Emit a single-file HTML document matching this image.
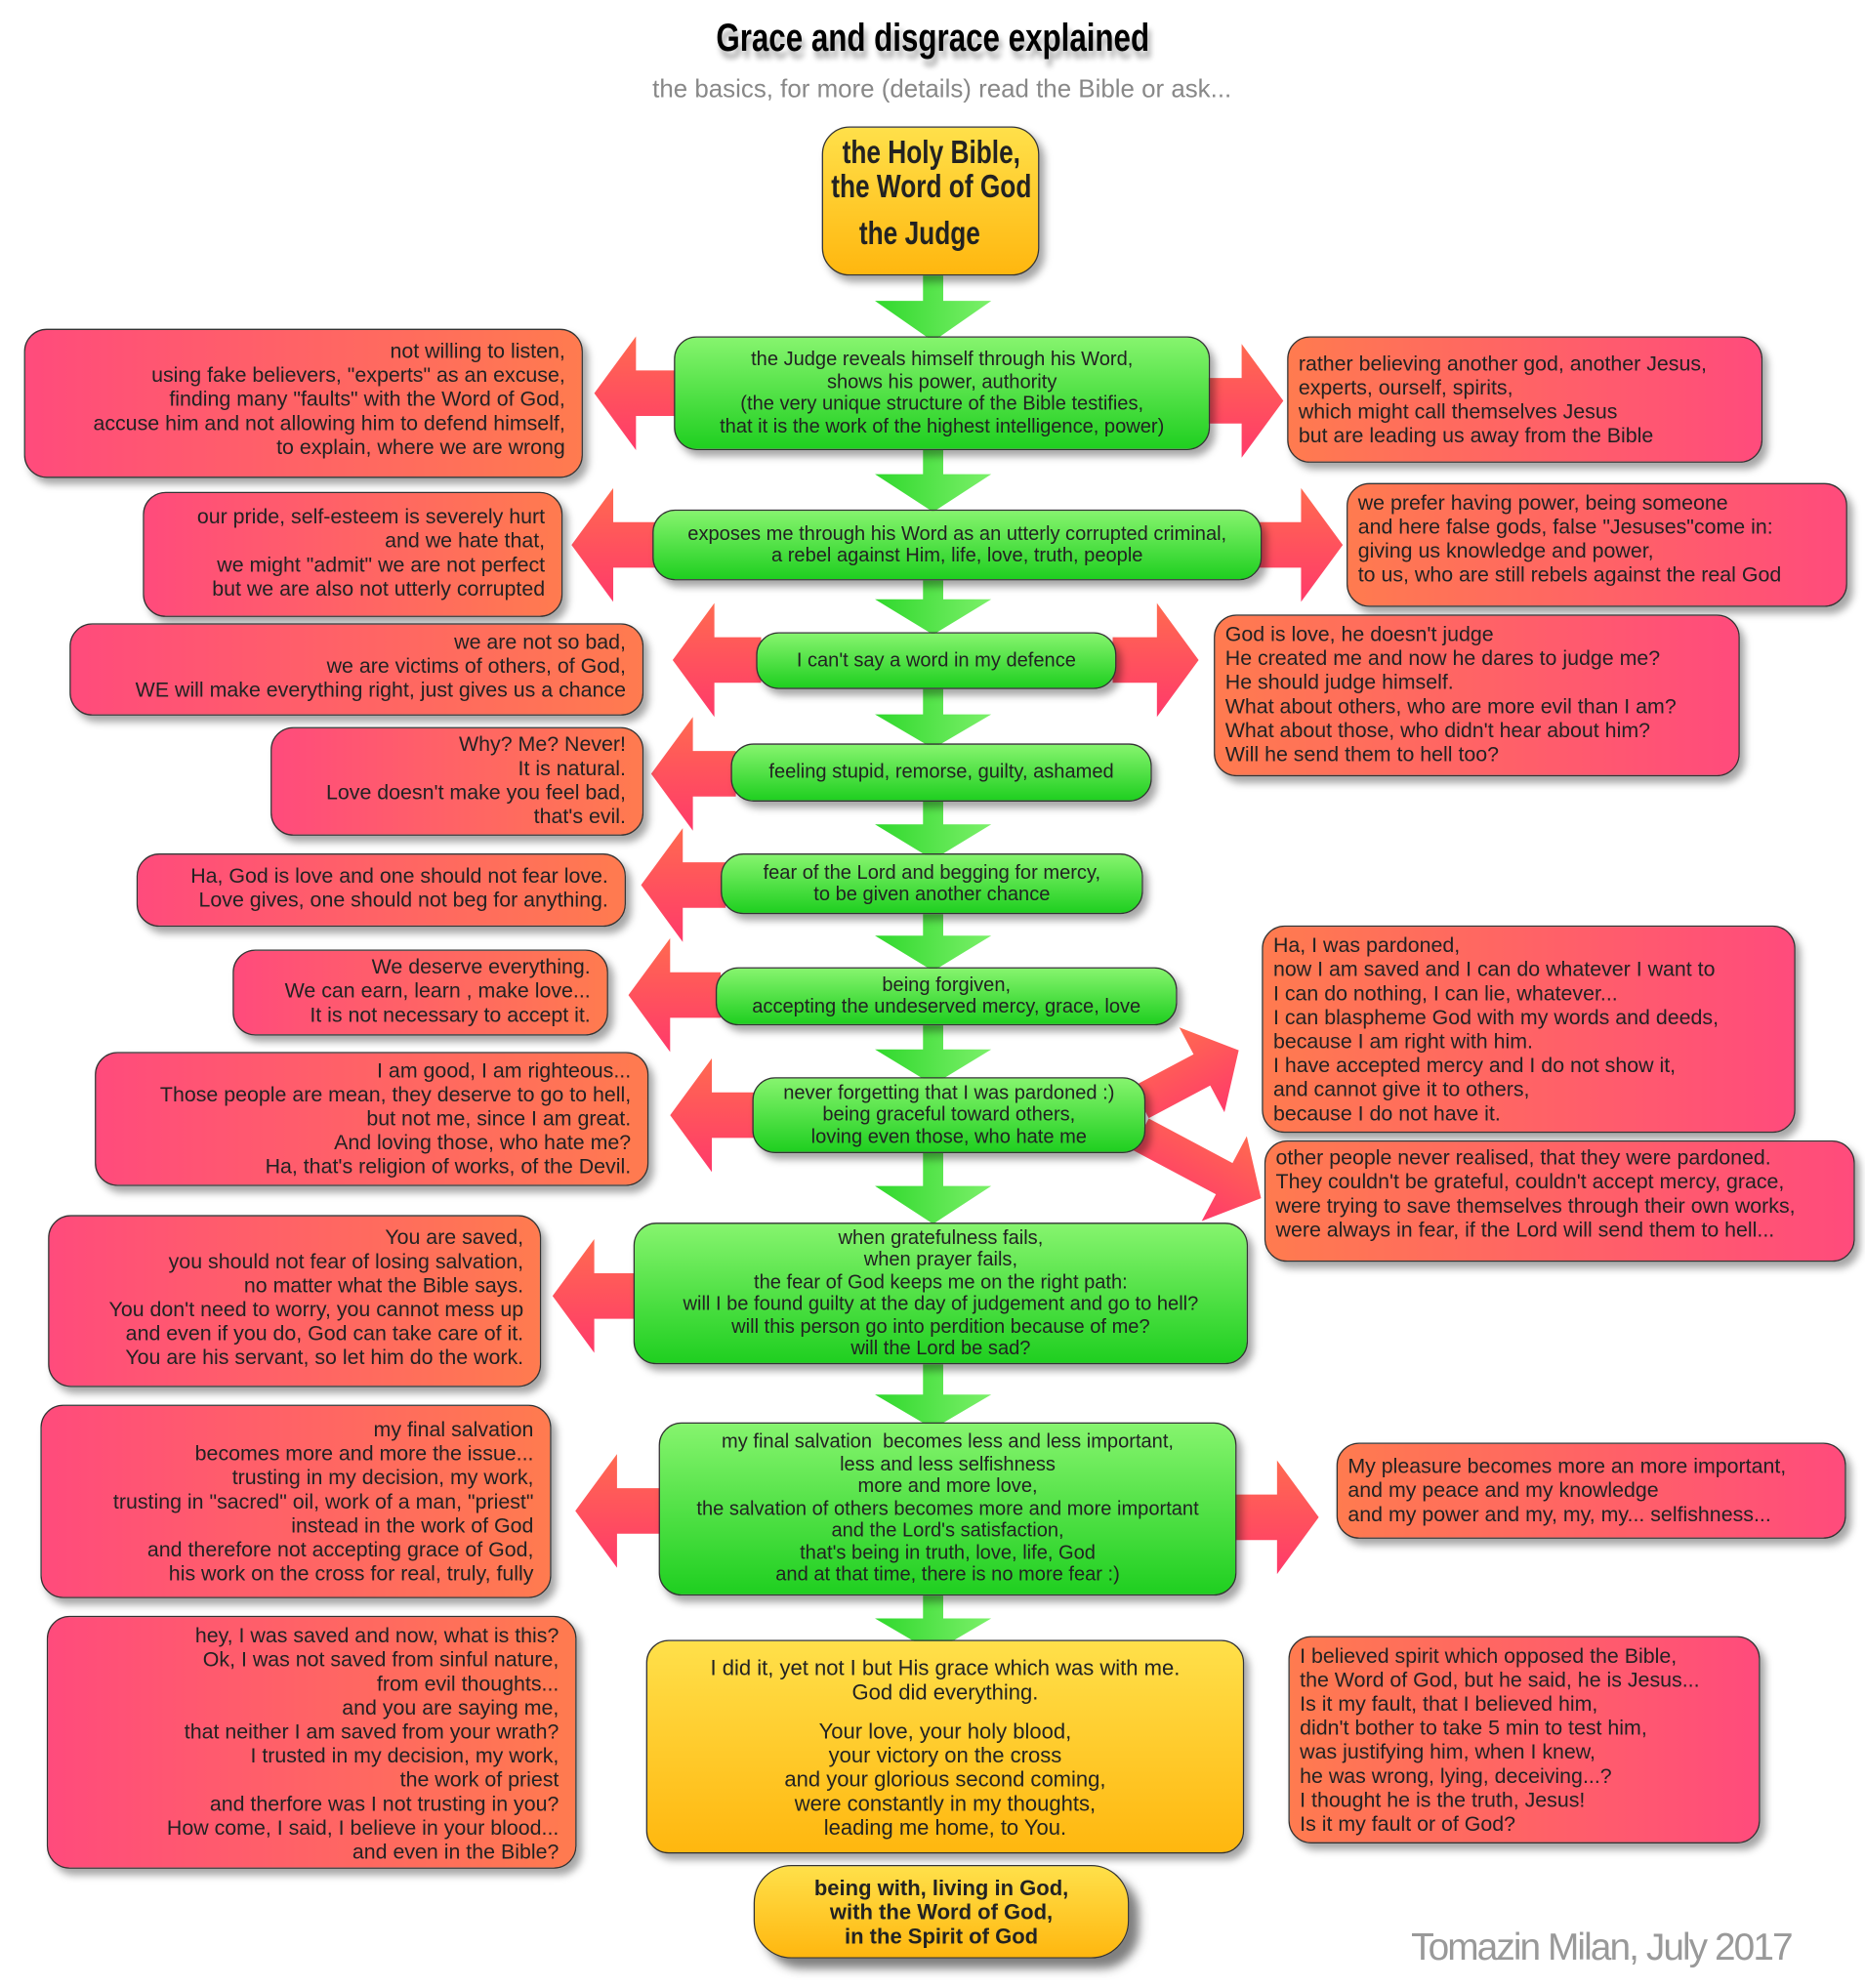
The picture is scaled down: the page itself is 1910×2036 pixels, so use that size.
<!DOCTYPE html>
<html><head><meta charset="utf-8">
<style>
html,body{margin:0;padding:0;background:#fff;width:1910px;height:2036px;overflow:hidden}
#w{position:absolute;left:0;top:0;width:1475px;height:1572px;transform:scale(1.2949);transform-origin:0 0;font-family:"Liberation Sans",sans-serif;}
.b{position:absolute;box-sizing:border-box;border:1.5px solid #333;border-radius:18px;color:#222;font-size:16.5px;line-height:19px;white-space:pre;box-shadow:4px 5px 6px rgba(0,0,0,0.35)}
.g{background:linear-gradient(#86f46e,#1fcf20);text-align:center;display:flex;align-items:center;justify-content:center;font-size:15.5px;line-height:17.5px}
.l{background:linear-gradient(90deg,#ff4b7c,#ff7b4f);text-align:right;padding:8px 13px 0 8px}
.r{background:linear-gradient(90deg,#ff7b4f,#ff4b7c);text-align:left;padding:8px 8px 0 8px}
.y{background:linear-gradient(#ffe04a,#ffb70f);text-align:center}
svg{position:absolute;left:0;top:0}
.sx{display:inline-block;transform:scaleX(0.78)}
</style></head><body><div id="w">
<div style="position:absolute;left:0;width:1475px;top:12px;text-align:center;font-size:31px;font-weight:bold;text-shadow:3px 6px 5px rgba(0,0,0,0.35)"><span class="sx">Grace and disgrace explained</span></div>
<div style="position:absolute;left:0;width:1490px;top:60px;text-align:center;font-size:20px;color:#888">the basics, for more (details) read the Bible or ask...</div>

<svg width="1475" height="1572">
<defs>
<linearGradient id="gg" x1="0" y1="0" x2="1" y2="0"><stop offset="0" stop-color="#2fd82c"/><stop offset="1" stop-color="#7cf06a"/></linearGradient>
<linearGradient id="rr" x1="0" y1="0" x2="0" y2="1"><stop offset="0" stop-color="#ff6a50"/><stop offset="1" stop-color="#ff3a6a"/></linearGradient>
</defs>
<g fill="url(#gg)">
<polygon points="730,218 746,218 746,238 784,238 738,270 692,238 730,238"/>
<polygon points="730,356 746,356 746,375 784,375 738,405 692,375 730,375"/>
<polygon points="730,459 746,459 746,474 784,474 738,502 692,474 730,474"/>
<polygon points="730,545 746,545 746,565 784,565 738,592 692,565 730,565"/>
<polygon points="730,634 746,634 746,652 784,652 738,680 692,652 730,652"/>
<polygon points="730,723 746,723 746,740 784,740 738,768 692,740 730,740"/>
<polygon points="730,811 746,811 746,830 784,830 738,858 692,830 730,830"/>
<polygon points="730,912 746,912 746,938 784,938 738,968 692,938 730,938"/>
<polygon points="730,1079 746,1079 746,1103 784,1103 738,1130 692,1103 730,1103"/>
<polygon points="730,1262 746,1262 746,1280 784,1280 738,1307 692,1280 730,1280"/>
</g>
<g fill="url(#rr)">
<polygon points="540,293 503,293 503,266 470,311 503,356 503,329 540,329"/>
<polygon points="950,299 982,299 982,272 1015,317 982,362 982,335 950,335"/>
<polygon points="520,413 485,413 485,386 452,431 485,476 485,449 520,449"/>
<polygon points="995,413 1029,413 1029,386 1062,431 1029,476 1029,449 995,449"/>
<polygon points="602,504 565,504 565,477 532,522 565,567 565,540 602,540"/>
<polygon points="880,504 915,504 915,477 948,522 915,567 915,540 880,540"/>
<polygon points="582,594 548,594 548,567 515,612 548,657 548,630 582,630"/>
<polygon points="574,682 540,682 540,655 507,700 540,745 540,718 574,718"/>
<polygon points="570,769 530,769 530,742 497,787 530,832 530,805 570,805"/>
<polygon points="598,864 563,864 563,837 530,882 563,927 563,900 598,900"/>
<polygon points="505,1007 470,1007 470,980 437,1025 470,1070 470,1043 505,1043"/>
<polygon points="525,1177 488,1177 488,1150 455,1195 488,1240 488,1213 525,1213"/>
<polygon points="975,1182 1010,1182 1010,1155 1043,1200 1010,1245 1010,1218 975,1218"/>
<g transform="translate(902,872) rotate(-28)"><polygon points="0,-14 55,-14 55,-38 88,0 55,38 55,14 0,14"/></g>
<g transform="translate(902,897) rotate(28)"><polygon points="0,-14 75,-14 75,-38 108,0 75,38 75,14 0,14"/></g>
</g>
</svg>

<div class="b y" style="left:650px;top:100px;width:172px;height:118px;border-radius:22px;font-weight:bold;font-size:26px;line-height:27px;padding-top:8px">
<div style="position:absolute;left:-64px;width:300px;top:6px;text-align:center"><span class="sx">the Holy Bible,
the Word of God</span></div>
<div style="position:absolute;left:-74px;width:300px;top:70px;text-align:center"><span class="sx">the Judge</span></div></div>

<div class="b g" style="left:533px;top:266px;width:424px;height:90px">the Judge reveals himself through his Word,
shows his power, authority
(the very unique structure of the Bible testifies,
that it is the work of the highest intelligence, power)</div>
<div class="b l" style="left:19px;top:260px;width:442px;height:118px">not willing to listen,
using fake believers, "experts" as an excuse,
finding many "faults" with the Word of God,
accuse him and not allowing him to defend himself,
to explain, where we are wrong</div>
<div class="b r" style="left:1018px;top:266px;width:376px;height:100px;padding-top:12px">rather believing another god, another Jesus,
experts, ourself, spirits,
which might call themselves Jesus
but are leading us away from the Bible</div>

<div class="b g" style="left:516px;top:403px;width:482px;height:56px">exposes me through his Word as an utterly corrupted criminal,
a rebel against Him, life, love, truth, people</div>
<div class="b l" style="left:113px;top:389px;width:332px;height:99px;padding-top:10px">our pride, self-esteem is severely hurt
and we hate that,
we might "admit" we are not perfect
but we are also not utterly corrupted</div>
<div class="b r" style="left:1065px;top:382px;width:396px;height:98px;padding-top:6px">we prefer having power, being someone
and here false gods, false "Jesuses"come in:
giving us knowledge and power,
to us, who are still rebels against the real God</div>

<div class="b g" style="left:598px;top:500px;width:285px;height:45px">I can't say a word in my defence</div>
<div class="b l" style="left:55px;top:493px;width:454px;height:73px;padding-top:5px">we are not so bad,
we are victims of others, of God,
WE will make everything right, just gives us a chance</div>
<div class="b r" style="left:960px;top:486px;width:416px;height:128px;padding-top:6px">God is love, he doesn't judge
He created me and now he dares to judge me?
He should judge himself.
What about others, who are more evil than I am?
What about those, who didn't hear about him?
Will he send them to hell too?</div>

<div class="b g" style="left:578px;top:588px;width:333px;height:46px">feeling stupid, remorse, guilty, ashamed</div>
<div class="b l" style="left:214px;top:575px;width:295px;height:86px;padding-top:4px">Why? Me? Never!
It is natural.
Love doesn't make you feel bad,
that's evil.</div>

<div class="b g" style="left:570px;top:675px;width:334px;height:48px">fear of the Lord and begging for mercy,
to be given another chance</div>
<div class="b l" style="left:108px;top:675px;width:387px;height:58px;padding-top:8px">Ha, God is love and one should not fear love.
Love gives, one should not beg for anything.</div>

<div class="b g" style="left:566px;top:765px;width:365px;height:46px">being forgiven,
accepting the undeserved mercy, grace, love</div>
<div class="b l" style="left:184px;top:751px;width:297px;height:68px;padding-top:4px">We deserve everything.
We can earn, learn , make love...
It is not necessary to accept it.</div>

<div class="b g" style="left:595px;top:852px;width:311px;height:60px">never forgetting that I was pardoned :)
being graceful toward others,
loving even those, who hate me</div>
<div class="b l" style="left:75px;top:832px;width:438px;height:106px;padding-top:5px">I am good, I am righteous...
Those people are mean, they deserve to go to hell,
but not me, since I am great.
And loving those, who hate me?
Ha, that's religion of works, of the Devil.</div>
<div class="b r" style="left:998px;top:732px;width:422px;height:164px;padding-top:6px">Ha, I was pardoned,
now I am saved and I can do whatever I want to
I can do nothing, I can lie, whatever...
I can blaspheme God with my words and deeds,
because I am right with him.
I have accepted mercy and I do not show it,
and cannot give it to others,
because I do not have it.</div>
<div class="b r" style="left:1000px;top:902px;width:467px;height:96px;padding-top:4px">other people never realised, that they were pardoned.
They couldn't be grateful, couldn't accept mercy, grace,
were trying to save themselves through their own works,
were always in fear, if the Lord will send them to hell...</div>

<div class="b g" style="left:501px;top:967px;width:486px;height:112px">when gratefulness fails,
when prayer fails,
the fear of God keeps me on the right path:
will I be found guilty at the day of judgement and go to hell?
will this person go into perdition because of me?
will the Lord be sad?</div>
<div class="b l" style="left:38px;top:961px;width:390px;height:136px;padding-top:8px">You are saved,
you should not fear of losing salvation,
no matter what the Bible says.
You don't need to worry, you cannot mess up
and even if you do, God can take care of it.
You are his servant, so let him do the work.</div>

<div class="b g" style="left:521px;top:1125px;width:457px;height:137px">my final salvation  becomes less and less important,
less and less selfishness
more and more love,
the salvation of others becomes more and more important
and the Lord's satisfaction,
that's being in truth, love, life, God
and at that time, there is no more fear :)</div>
<div class="b l" style="left:32px;top:1111px;width:404px;height:153px;padding-top:10px">my final salvation
becomes more and more the issue...
trusting in my decision, my work,
trusting in "sacred" oil, work of a man, "priest"
instead in the work of God
and therefore not accepting grace of God,
his work on the cross for real, truly, fully</div>
<div class="b r" style="left:1057px;top:1141px;width:403px;height:76px;padding-top:9px">My pleasure becomes more an more important,
and my peace and my knowledge
and my power and my, my, my... selfishness...</div>

<div class="b y" style="left:511px;top:1297px;width:473px;height:169px;padding-top:12px;font-size:17px">I did it, yet not I but His grace which was with me.
God did everything.
<div style="height:12px"></div>Your love, your holy blood,
your victory on the cross
and your glorious second coming,
were constantly in my thoughts,
leading me home, to You.</div>
<div class="b l" style="left:37px;top:1278px;width:419px;height:200px;padding-top:6px">hey, I was saved and now, what is this?
Ok, I was not saved from sinful nature,
from evil thoughts...
and you are saying me,
that neither I am saved from your wrath?
I trusted in my decision, my work,
the work of priest
and therfore was I not trusting in you?
How come, I said, I believe in your blood...
and even in the Bible?</div>
<div class="b r" style="left:1019px;top:1294px;width:373px;height:164px;padding-top:6px">I believed spirit which opposed the Bible,
the Word of God, but he said, he is Jesus...
Is it my fault, that I believed him,
didn't bother to take 5 min to test him,
was justifying him, when I knew,
he was wrong, lying, deceiving...?
I thought he is the truth, Jesus!
Is it my fault or of God?</div>

<div class="b y" style="left:596px;top:1475px;width:297px;height:74px;border-radius:30px;font-weight:bold;font-size:17px;line-height:19px;padding-top:8px;box-shadow:8px 8px 8px rgba(0,0,0,0.5)">being with, living in God,
with the Word of God,
in the Spirit of God</div>

<div style="position:absolute;left:1116px;top:1524px;font-size:30px;color:#999;letter-spacing:-1.5px">Tomazin Milan, July 2017</div>
</div></body></html>
